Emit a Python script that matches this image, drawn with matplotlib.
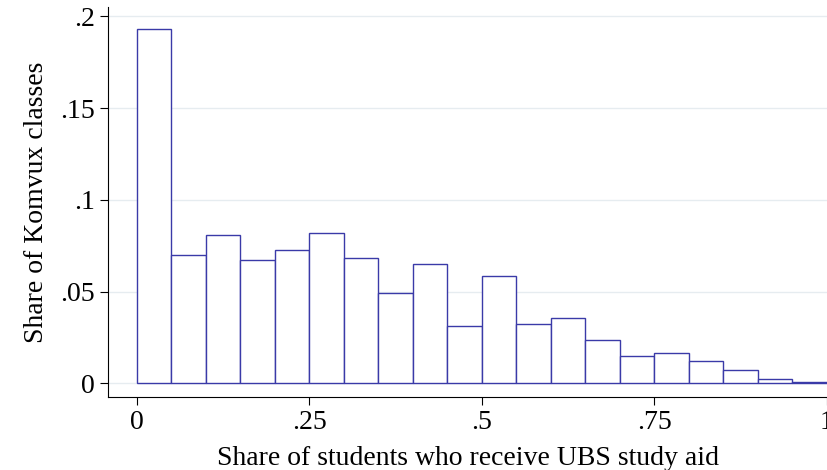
import numpy as np
import matplotlib.pyplot as plt

plt.rcParams['font.family'] = ['Liberation Serif', 'DejaVu Serif']

bin_left = np.arange(0, 1, 0.05)
shares = [0.193, 0.0702, 0.0807, 0.0674, 0.0724, 0.0818, 0.0685, 0.0492, 0.0652, 0.0315,
          0.0586, 0.0326, 0.0354, 0.0238, 0.0149, 0.0166, 0.0122, 0.0072, 0.0022, 0.0006]
yticks = [0, 0.05, 0.1, 0.15, 0.2]
ytick_labels = ['0', '.05', '.1', '.15', '.2']
xticks = [0, 0.25, 0.5, 0.75, 1]
xtick_labels = ['0', '.25', '.5', '.75', '1']

fig = plt.figure(figsize=(8.27, 4.70), dpi=100)
ax = fig.add_axes([0.131, 0.155, 0.869, 0.83])

ax.bar(bin_left, shares, width=0.05, align='edge', facecolor='white',
       edgecolor='#3a3aa8', linewidth=1.0, zorder=3)

ax.set_xlim(-0.041, 1.0)
ax.set_ylim(-0.0075, 0.205)
ax.set_yticks(yticks)
ax.set_yticklabels(ytick_labels, rotation=0)
ax.set_xticks(xticks)
ax.set_xticklabels(xtick_labels)
ax.tick_params(labelsize=20, length=6, color='black')
ax.grid(axis='y', color='#e6ecf0', linewidth=1, zorder=0)

for s in ['top', 'right']:
    ax.spines[s].set_visible(False)

ax.set_xlabel('Share of students who receive UBS study aid', fontsize=20, labelpad=8)
ax.set_ylabel('Share of Komvux classes', fontsize=20, labelpad=8)

fig.savefig('out.png', dpi=100)
